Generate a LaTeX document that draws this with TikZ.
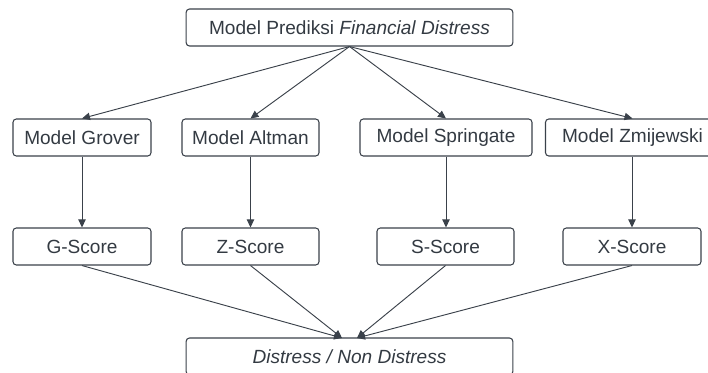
\documentclass[tikz,border=0pt]{standalone}
\usepackage{fontspec}
\setmainfont{Liberation Sans}
\usetikzlibrary{arrows.meta}
\definecolor{boxline}{HTML}{3A414A}
\definecolor{txt}{HTML}{333A42}
\tikzset{
  box/.style={draw=boxline, line width=0.8pt, rounded corners=2.5pt, inner sep=0pt,
    minimum height=27.75pt, text=txt, font=\fontsize{14.3}{16}\selectfont},
  arr/.style={draw=boxline, line width=0.7pt, -{Triangle[length=6pt,width=5.5pt]}}
}
\begin{document}
\begin{tikzpicture}[x=0.75pt,y=-0.75pt]
    \useasboundingbox (0,0) rectangle (708,372);
    % model utama
    \node[box, minimum width=245pt] (top) at (349.5,27.5) {Model Prediksi \textit{Financial Distress}};
    % model-model
    \node[box, minimum width=103.5pt] (grover) at (82,137.5) {Model Grover};
    \node[box, minimum width=102.75pt] (altman) at (250.5,137.5) {Model Altman};
    \node[box, minimum width=129pt] (springate) at (446,137.5) {Model Springate};
    \node[box, minimum width=130.5pt] (zmij) at (632.5,137.5) {Model Zmijewski};
    % skor
    \node[box, minimum width=103.5pt] (gscore) at (82,246.5) {G-Score};
    \node[box, minimum width=102.75pt] (zscore) at (250.5,246.5) {Z-Score};
    \node[box, minimum width=102.75pt] (sscore) at (445.5,246.5) {S-Score};
    \node[box, minimum width=103.5pt] (xscore) at (632,246.5) {X-Score};
    % hasil
    \node[box, minimum width=245pt] (hasil) at (349.5,356.5) {\textit{Distress / Non Distress}};
    \coordinate (inL) at (342,338);
    \coordinate (inR) at (357,338);

    \draw[arr] (top.south) -- (grover.north);
    \draw[arr] (top.south) -- (altman.north);
    \draw[arr] (top.south) -- (springate.north);
    \draw[arr] (top.south) -- (zmij.north);

    \draw[arr] (grover) -- (gscore);
    \draw[arr] (altman) -- (zscore);
    \draw[arr] (springate.south) -- (springate.south |- sscore.north);
    \draw[arr] (xscore.north |- zmij.south) -- (xscore.north);

    \draw[arr] (gscore.south) -- (inL);
    \draw[arr] (zscore.south) -- (inL);
    \draw[arr] (sscore.south) -- (inR);
    \draw[arr] (xscore.south) -- (inR);
\end{tikzpicture}
\end{document}
